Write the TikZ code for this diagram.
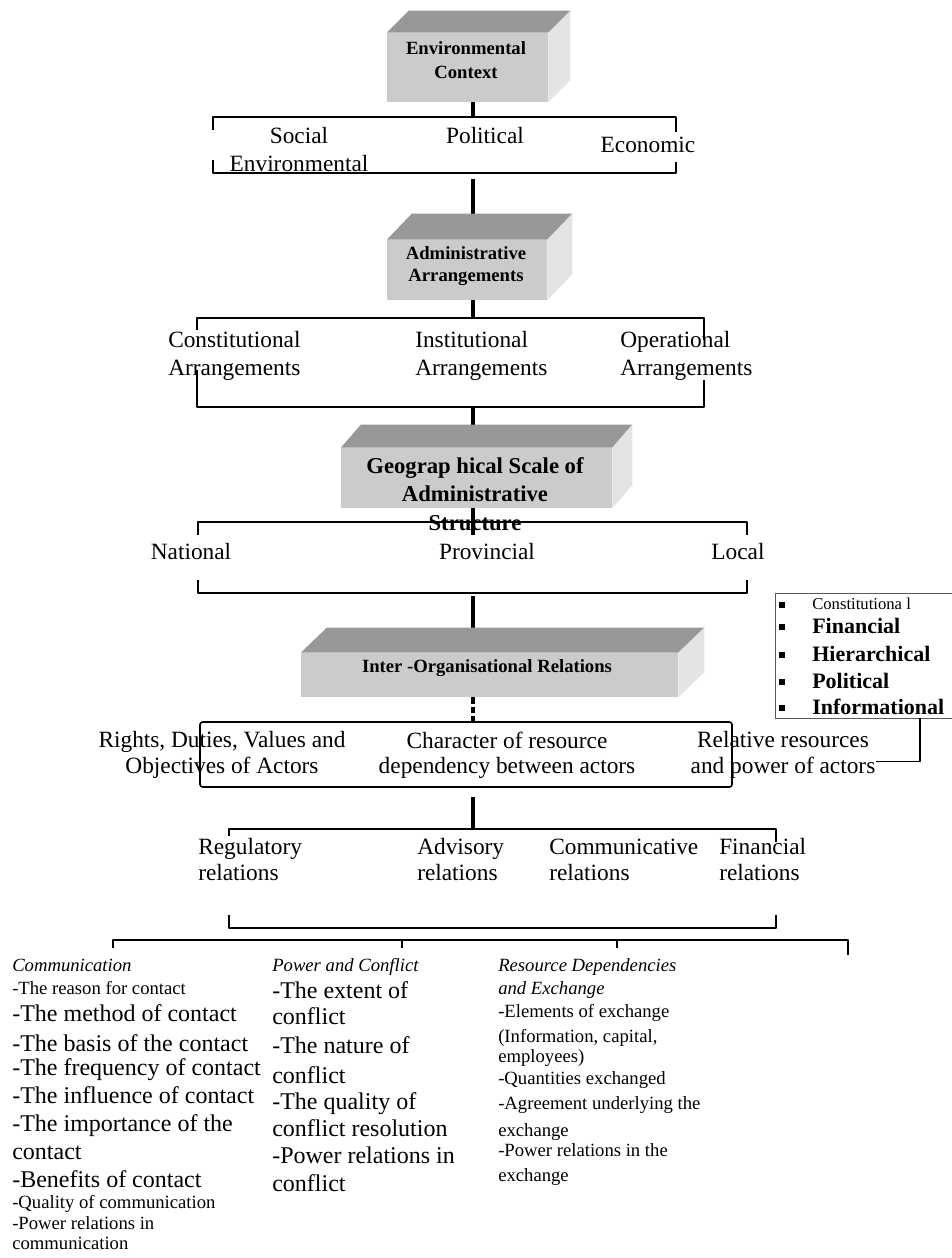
\documentclass[tikz,border=0pt]{standalone}
\usepackage{fontspec}
\setmainfont{Liberation Serif}
\usetikzlibrary{calc}

\definecolor{frontgray}{RGB}{203,203,203}
\definecolor{topgray}{RGB}{152,152,152}
\definecolor{sidegray}{RGB}{228,228,228}

\begin{document}
\begin{tikzpicture}[x=0.75pt, y=-0.75pt, line join=round,
	face/.style={rectangle, fill=frontgray, inner sep=0pt},
	boxlbl/.style={font=\bfseries\fontsize{14}{18}\selectfont, align=center, inner sep=0pt},
	lbl/.style={font=\fontsize{17.5}{21}\selectfont, inner sep=0pt},
	rail/.style={line width=1.2pt},
	stem/.style={line width=3pt},
	lg/.style={font=\fontsize{18}{21}\selectfont, anchor=west, inner sep=0pt, text height=13pt, text depth=4pt},
	sm/.style={font=\fontsize{14}{17}\selectfont, anchor=west, inner sep=0pt, text height=10pt, text depth=3pt},
	hd/.style={font=\itshape\fontsize{14}{17}\selectfont, anchor=west, inner sep=0pt, text height=10pt, text depth=3pt},
	it1/.style={font=\fontsize{12.5}{15}\selectfont, anchor=west, inner sep=0pt, text height=9pt, text depth=3pt},
	ib/.style={font=\bfseries\fontsize{16.5}{19}\selectfont, anchor=west, inner sep=0pt, text height=12pt, text depth=3pt},
	bul/.style={rectangle, fill=black, inner sep=0pt, minimum size=4pt}]

	\path[use as bounding box, fill=white] (0,0) rectangle (951,1258);

	% front faces of the four blocks
	\node[face, minimum width=120.75pt, minimum height=51.75pt] (env) at (467.5,67.5) {};
	\node[face, minimum width=120pt, minimum height=45pt] (adm) at (467,270) {};
	\node[face, minimum width=203.25pt, minimum height=45pt] (geo) at (476.5,478) {};
	\node[face, minimum width=282.75pt, minimum height=33pt] (ior) at (489.5,675) {};

	\coordinate (b1t) at (473,117); \coordinate (b1b) at (473,179);
	\coordinate (b2t) at (473,318); \coordinate (b2b) at (473,407);
	\coordinate (b3t) at (473,535); \coordinate (b3b) at (473,596);
	\coordinate (b4t) at (473,723); \coordinate (b4b) at (473,797);
	\coordinate (b5t) at (473,829);

	\draw[stem] (env.south -| b1t) -- (b1t);
	\draw[stem] (b1b) -- ($(b1b |- adm.north)+(0,-26)$);
	\draw[stem] (adm.south -| b2t) -- (b2t);
	\draw[stem] (b2b) -- ($(b2b |- geo.north)+(0,-23)$);
	\draw[stem] (geo.south -| b3t) -- (b3t);
	\draw[stem] (b3b) -- ($(b3b |- ior.north)+(0,-25)$);
	\draw[stem, dash pattern=on 5pt off 2pt] (ior.south -| b4t) -- (b4t);
	\draw[stem] (b4b) -- (b5t);

	% brackets
	\coordinate (b1nw) at (213,117); \coordinate (b1ne) at (676,117);
	\coordinate (b1sw) at (213,173); \coordinate (b1se) at (676,173);
	\draw[rail] (b1nw) ++(0,13) -- (b1nw) -- (b1ne) -- ++(0,15);
	\draw[rail] (b1sw) ++(0,-13) -- (b1sw) -- (b1se) -- ++(0,-11);

	\coordinate (b2nw) at (197,318); \coordinate (b2ne) at (704,318);
	\coordinate (b2sw) at (197,407); \coordinate (b2se) at (704,407);
	\draw[rail] (b2nw) ++(0,12) -- (b2nw) -- (b2ne) -- ++(0,22);
	\draw[rail] (b2sw) ++(0,-37) -- (b2sw) -- (b2se) -- ++(0,-27);

	\coordinate (b3nw) at (198,522); \coordinate (b3ne) at (747,522);
	\coordinate (b3sw) at (198,593); \coordinate (b3se) at (747,593);
	\draw[rail] (b3nw) ++(0,13) -- (b3nw) -- (b3ne) -- ++(0,13);
	\draw[rail] (b3sw) ++(0,-13) -- (b3sw) -- (b3se) -- ++(0,-13);

	\coordinate (b4nw) at (200,722); \coordinate (b4se) at (732,787);
	\draw[rail, rounded corners=2pt] (b4nw) rectangle (b4se);

	\coordinate (b5nw) at (229,829); \coordinate (b5ne) at (776,829);
	\coordinate (b5sw) at (229,928); \coordinate (b5se) at (776,928);
	\draw[rail] (b5nw) ++(0,7) -- (b5nw) -- (b5ne) -- ++(0,13);
	\draw[rail] (b5sw) ++(0,-13) -- (b5sw) -- (b5se) -- ++(0,-13);

	\coordinate (r0) at (113,940); \coordinate (r1) at (402,940);
	\coordinate (r2) at (617,940); \coordinate (r3) at (848,940);
	\draw[rail] (r0) ++(0,8) -- (r0) -- (r3) -- ++(0,15);
	\draw[rail] (r1) -- ++(0,8);
	\draw[rail] (r2) -- ++(0,8);

	% top and side faces
	\foreach \b/\dx/\dy in {env/22/-22, adm/25/-26, geo/20/-23, ior/26/-25} {
		\fill[topgray] (\b.north west) -- ++(\dx,\dy) -- ([shift={(\dx,\dy)}]\b.north east) -- (\b.north east) -- cycle;
		\fill[sidegray] (\b.north east) -- ++(\dx,\dy) -- ([shift={(\dx,\dy)}]\b.south east) -- (\b.south east) -- cycle;
	}

	\node[boxlbl] (envT) at (466,60) {Environmental\\Context};
	\node[boxlbl, font=\bfseries\fontsize{14}{16.5}\selectfont] (admT) at (466,266) {Administrative\\Arrangements};
	\node[boxlbl, font=\bfseries\fontsize{17}{21.5}\selectfont] (geoT) at (475,494) {Geograp hical Scale of\\Administrative\\Structure};
	\node[boxlbl] (iorT) at (487,668) {Inter -Organisational Relations};

	\node[lbl, align=center] (soc) at (299,150) {Social\\Environmental};
	\node[lbl] (pol) at (485,136) {Political};
	\node[lbl] (eco) at (648,145) {Economic};

	\node[lbl, align=left, anchor=west] (con) at (168,356) {Constitutional\\Arrangements};
	\node[lbl, align=left, anchor=west] (ins) at (415,356) {Institutional\\Arrangements};
	\node[lbl, align=left, anchor=west] (ope) at (620,356) {Operational\\Arrangements};

	\node[lbl] (nat) at (191,552) {National};
	\node[lbl] (prv) at (487,552) {Provincial};
	\node[lbl] (loc) at (738,552) {Local};

	\node[lbl, align=center, font=\fontsize{17.5}{19}\selectfont] (rig) at (222,755) {Rights, Duties, Values and\\Objectives of Actors};
	\node[lbl, align=center, font=\fontsize{17.5}{19}\selectfont] (cha) at (507,755) {Character of resource\\dependency between actors};
	\node[lbl, align=center, font=\fontsize{17.5}{19}\selectfont] (rel) at (783,755) {Relative resources\\and power of actors};

	\node[lbl, align=left, anchor=west, font=\fontsize{17.5}{19.5}\selectfont] (reg) at (198,860) {Regulatory\\relations};
	\node[lbl, align=left, anchor=west, font=\fontsize{17.5}{19.5}\selectfont] (adv) at (417,860) {Advisory\\relations};
	\node[lbl, align=left, anchor=west, font=\fontsize{17.5}{19.5}\selectfont] (com) at (549,860) {Communicative\\relations};
	\node[lbl, align=left, anchor=west, font=\fontsize{17.5}{19.5}\selectfont] (fin) at (719,860) {Financial\\relations};

	% list of relation types
	\node[draw=gray!70!black, line width=0.6pt, minimum width=138.75pt, minimum height=93.75pt, anchor=north west, inner sep=0pt] (lst) at (775,593) {};
	\foreach \y/\f/\t [count=\i] in {605/it1/Constitutiona l, 627/ib/Financial, 655/ib/Hierarchical, 682/ib/Political, 708/ib/Informational} {
		\node[bul] (bu\i) at (782,\y) {};
		\node[\f] (li\i) at (812,\y) {\t};
	}
	\coordinate (lstc) at (920,718);
	\draw[rail] (lstc) |- ([yshift=-5pt]rel.east);

	% bottom columns
	\foreach \y/\f/\t [count=\i] in {967/hd/Communication, 990/sm/-The reason for contact, 1015/lg/-The method of contact, 1045/lg/-The basis of the contact, 1069/lg/-The frequency of contact, 1097/lg/-The influence of contact, 1125/lg/-The importance of the, 1153/lg/contact, 1181/lg/-Benefits of contact, 1204/sm/-Quality of communication, 1225/sm/-Power relations in, 1245/sm/communication}
		\node[\f] (ca\i) at (12,\y) {\t};
	\foreach \y/\f/\t [count=\i] in {967/hd/Power and Conflict, 992/lg/-The extent of, 1018/lg/conflict, 1047/lg/-The nature of, 1077/lg/conflict, 1103/lg/-The quality of, 1130/lg/conflict resolution, 1157/lg/-Power relations in, 1185/lg/conflict}
		\node[\f] (cb\i) at (272,\y) {\t};
	\foreach \y/\f/\t [count=\i] in {967/hd/Resource Dependencies, 990/hd/and Exchange, 1013/sm/-Elements of exchange, 1038/sm/{(Information, capital,}, 1058/sm/employees), 1080/sm/-Quantities exchanged, 1105/sm/-Agreement underlying the, 1132/sm/exchange, 1152/sm/-Power relations in the, 1177/sm/exchange}
		\node[\f] (cc\i) at (498,\y) {\t};
\end{tikzpicture}
\end{document}
